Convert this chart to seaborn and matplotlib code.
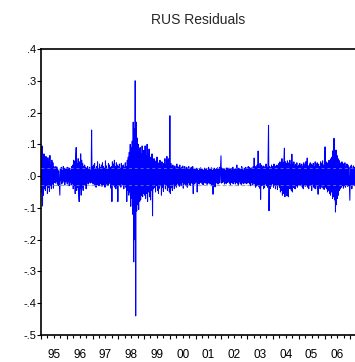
import numpy as np
import pandas as pd
import matplotlib
matplotlib.use("Agg")
import matplotlib.pyplot as plt
import matplotlib.dates as mdates
from matplotlib.ticker import FuncFormatter, NullFormatter
import seaborn as sns

# Residuals, in thousandths, roughly weekly per year
res_1995 = [60,-50,95,-94,55,-60,70,-40,
            50,-45,62,-30,40,-55,58,-35,45,-48,65,-30,35,-40,50,-25,42,-38,30,-20,
            25,-22,30,-18,28,-25,20,-30,15,-20,-60,22,-15,28,-25,18,-20,30,-15,25,-28,20,-18,26]
res_1996 = [20,-25,28,-18,22,-30,25,-20,18,-28,30,-22,
            35,-40,50,-30,45,-55,60,90,-45,40,-35,55,-50,-80,45,-40,70,-60,50,-35,40,-45,30,-25,35,-30,28,-40,
            25,-20,30,-25,20,-15,28,-22,18,-20,145,-18]
res_1997 = [30,-25,35,-20,40,-30,25,-35,30,-18,45,-28,22,-30,38,-25,28,-20,35,-32,
            42,-22,30,-28,25,-35,48,-20,32,-26,20,-30,40,-24,35,-20,28,-38,30,-80,
            45,-30,38,-25,50,-35,30,-40,42,-28,35,-80]
res_1998 = [30,-25,38,-30,25,-35,40,-22,32,-28,35,-40,28,-30,42,-35,30,-80,
            50,-45,60,-60,75,-50,100,-95,90,-70,110,-120,170,-270,150,-200,300,-440,
            170,-110,120,-90,100,-105,85,-80,
            90,-75,70,-60,95,-65,80,-55]
res_1999 = [80,-60,95,-70,65,-55,100,-80,70,-50,85,-65,60,-75,55,-45,70,-125,
            45,-40,55,-35,40,-50,48,-30,60,-45,35,-55,42,-38,50,-30,38,-60,45,-35,30,-48,40,-25,55,-40,35,-30,62,-45,
            50,-35,55,-50]
res_2000 = [190,-55,40,-35,30,-45,35,-25,28,-40,32,-30,25,-35,38,-22,30,-28,26,-32,
            35,-25,22,-30,28,-20,32,-38,25,-22,30,-28,20,-25,28,-35,24,-20,30,-26,
            22,-30,26,-20,28,-24,30,-55,22,-25,20,-22]
res_2001 = [22,-18,25,-50,20,-22,18,-25,24,-20,26,-18,20,-24,22,-28,18,-20,25,-22,
            20,-18,24,-26,18,-22,28,-20,22,-25,20,-24,26,-30,18,-57,22,-20,25,-34,
            20,-22,24,-18,26,-25,20,-22,28,-20,24,64]
res_2002 = [-22,25,-20,22,-18,24,-25,20,-22,18,-24,26,-20,22,-18,25,-22,20,-26,24,
            -20,18,-22,28,-24,20,-18,22,-25,24,-20,35,-22,20,-28,25,-18,22,-24,20,
            -26,30,-20,22,-24,18,-22,25,-20,28,-24,22]
res_2003 = [25,-22,30,-20,28,-25,22,-30,26,-20,24,-28,30,-22,57,-25,30,-35,28,-30,
            35,-28,79,-32,30,-38,40,-73,35,-30,25,-28,32,-40,28,-35,30,-25,38,-30,
            28,-35,45,160,-109,30,-40,28,-32,35,-25,30]
res_2004 = [30,-35,38,-28,32,-40,28,-30,35,-42,30,-28,40,-35,45,-50,38,-45,55,-60,
            42,-55,50,88,-65,45,-50,40,-62,48,-45,-65,42,-38,50,-40,35,-45,69,-50,
            40,-35,45,-38,32,-40,38,-30,42,-35,30,-28]
res_2005 = [35,-28,40,-30,32,-25,38,-35,30,-40,42,-28,35,-32,45,-30,38,57,-35,30,
            -40,35,-28,42,-30,38,-45,32,-25,40,-35,30,-38,45,-40,35,-30,42,-28,-57,
            38,-32,30,-40,45,-35,40,-30,48,-38,35,-42]
res_2006 = [40,92,-35,45,-40,38,-50,42,-45,50,-55,48,-60,55,-50,60,-70,80,-65,119,
            -75,70,-113,82,-90,65,-70,55,-60,50,-45,42,-40,38,-35,45,-30,40,-38,35,
            -30,42,-35,30,-28,38,-32,35,-30,28,-25,-76]
res_2007 = [30,-28,35,-40,25,-30,32,-25,28,-30]

years = [1995, 1996, 1997, 1998, 1999, 2000, 2001, 2002, 2003, 2004, 2005, 2006, 2007]
series = [res_1995, res_1996, res_1997, res_1998, res_1999, res_2000, res_2001,
          res_2002, res_2003, res_2004, res_2005, res_2006, res_2007]
se_band = 0.027
title = "RUS Residuals"
yticks = [0.4, 0.3, 0.2, 0.1, 0.0, -0.1, -0.2, -0.3, -0.4, -0.5]

frames = []
for y, vals in zip(years, series):
    n = len(vals)
    if y == 2007:
        d = pd.date_range("2007-01-01", periods=n, freq="7D")
    else:
        d = pd.date_range(f"{y}-01-01", f"{y+1}-01-01", periods=n + 1)[:-1]
    frames.append(pd.DataFrame({"date": d, "resid": np.array(vals) / 1000.0}))
df = pd.concat(frames, ignore_index=True)

sns.set_style("white")
plt.rcParams["font.family"] = ["Liberation Sans", "DejaVu Sans"]

W, H = 355, 362
fig = plt.figure(figsize=(W / 100, H / 100), dpi=100)
ax = fig.add_axes([41 / W, 1 - 335 / H, (355 - 41) / W, (335 - 49) / H])

ax.axhline(se_band, color="#a8a8a8", lw=0.9, ls=(0, (3, 2)), zorder=1)
ax.axhline(-se_band, color="#a8a8a8", lw=0.9, ls=(0, (3, 2)), zorder=1)
sns.lineplot(data=df, x="date", y="resid", color="#0000ff", linewidth=0.75, ax=ax, zorder=2)
ax.axhline(se_band, color="#b4b4b4", lw=0.7, ls=(0, (3, 3)), alpha=0.55, zorder=3)
ax.axhline(-se_band, color="#b4b4b4", lw=0.7, ls=(0, (3, 3)), alpha=0.55, zorder=3)

ax.set_ylim(-0.5, 0.4)
ax.set_xlim(pd.Timestamp("1995-01-01"), df["date"].iloc[-1] + pd.Timedelta(days=3))
ax.set_yticks(yticks)

def ylab(v):
    s = f"{v:.1f}"
    return s.replace("0.", ".")
ax.set_yticklabels([ylab(v) for v in yticks])

ax.xaxis.set_major_locator(mdates.MonthLocator(bymonth=[1]))
ax.xaxis.set_major_formatter(NullFormatter())
ax.xaxis.set_minor_locator(mdates.MonthLocator(bymonth=[4, 7, 10]))
def xlab(x, pos):
    d = mdates.num2date(x)
    return d.strftime("%y") if d.month == 7 else ""
ax.xaxis.set_minor_formatter(FuncFormatter(xlab))

ax.tick_params(axis="x", which="major", direction="out", length=3, width=0.8, color="black")
ax.tick_params(axis="x", which="minor", direction="out", length=2, width=0.8, color="black",
               labelsize=8.5, pad=8, labelcolor="black")
ax.tick_params(axis="y", which="major", direction="out", length=3, width=0.8, color="black",
               labelsize=8, pad=0.5, labelcolor="black", left=True)
ax.tick_params(axis="x", bottom=True, which="both")

for s in ["left", "top", "bottom"]:
    ax.spines[s].set_color("black")
    ax.spines[s].set_linewidth(1.2)
ax.spines["right"].set_visible(False)
ax.set_xlabel("")
ax.set_ylabel("")
ax.grid(False)

fig.text((41 + 355) / 2 / W, 1 - 24 / H, title, ha="center", va="baseline", fontsize=10)

fig.savefig("out.png", dpi=100, facecolor="white")
